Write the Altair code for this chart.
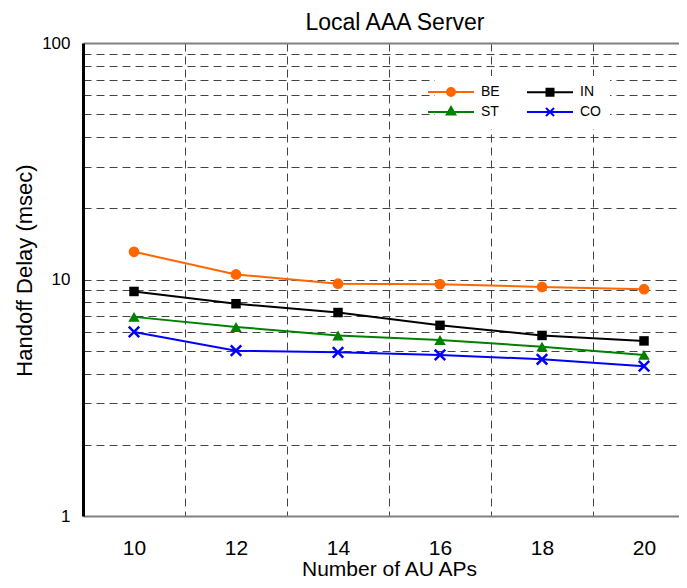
import altair as alt
import pandas as pd

# ---- data ----
aps = [10, 12, 14, 16, 18, 20]
be = [13.1, 10.5, 9.6, 9.55, 9.3, 9.1]
in_ = [8.9, 7.9, 7.25, 6.4, 5.8, 5.5]
st = [6.95, 6.3, 5.8, 5.55, 5.2, 4.8]
co = [6.0, 5.0, 4.92, 4.8, 4.6, 4.3]
# legend order (filled column by column): BE, ST | IN, CO
series = ["BE", "ST", "IN", "CO"]
colors = ["#FF6600", "#008000", "#000000", "#0000FF"]
series_values = {"BE": be, "IN": in_, "ST": st, "CO": co}
x_ticks = list(range(10, 21))
y_ticks = [1, 2, 3, 4, 5, 6, 7, 8, 9, 10, 20, 30, 40, 50, 60, 70, 80, 90, 100]

rows = []
for name in series:
    for a, v in zip(aps, series_values[name]):
        rows.append({"aps": a, "delay": v, "series": name})
df = pd.DataFrame(rows)

FONT = "Liberation Sans"

x_enc = alt.X(
    "aps:Q",
    scale=alt.Scale(domain=[9, 20.686], nice=False, zero=False),
    axis=alt.Axis(
        values=x_ticks,
        labelExpr="datum.value % 2 == 0 ? datum.label : ''",
        grid=True,
        gridDash=[8, 5],
        gridColor="#444444",
        gridOpacity={"condition": {"test": "datum.value % 2 == 1", "value": 1}, "value": 0},
        ticks=False,
        tickSize=0,
        domainColor="#808080",
        domainWidth=2,
        labelFontSize=21,
        labelColor="#000000",
        labelPadding=32,
        labelBaseline="middle",
        title="Number of AU APs",
        titleFontSize=21,
        titleFontWeight="normal",
        titleColor="#000000",
        titleX=306,
        titleY=59,
        titleAlign="center",
        titleBaseline="alphabetic",
    ),
)

y_enc = alt.Y(
    "delay:Q",
    scale=alt.Scale(type="log", domain=[1, 100], nice=False),
    axis=alt.Axis(
        values=y_ticks,
        format="d",
        labelExpr="(datum.value == 1 || datum.value == 10 || datum.value == 100) ? datum.label : ''",
        grid=True,
        gridDash={"condition": {"test": "datum.value == 100 || datum.value == 1", "value": []}, "value": [8, 5]},
        gridColor={"condition": {"test": "datum.value == 100 || datum.value == 1", "value": "#808080"}, "value": "#444444"},
        gridWidth={"condition": {"test": "datum.value == 100", "value": 2}, "value": 1},
        ticks=False,
        tickSize=0,
        domainColor="#000000",
        domainWidth=3,
        labelFontSize=17,
        labelColor="#000000",
        labelPadding=13,
        title="Handoff Delay (msec)",
        titleFontSize=22,
        titleFontWeight="normal",
        titleColor="#000000",
        titleAngle=270,
        titleX=-52,
        titleY=227,
        titleAlign="center",
        titleBaseline="alphabetic",
    ),
)

# legend symbols: a line segment with the marker drawn on it (stroke only,
# nested outlines give the filled look)
L = "M-4.6,0H4.6"
circ = "".join(
    f"M-{r},0A{r},{r},0,1,1,{r},0A{r},{r},0,1,1,-{r},0Z" for r in (0.8, 0.45, 0.12)
)
sq = "".join(f"M-{h},-{h}H{h}V{h}H-{h}Z" for h in (0.7, 0.35, 0.05))
tri = "".join(
    f"M0,{-1.0 * s:.2f}L{0.85 * s:.2f},{0.5 * s:.2f}H{-0.85 * s:.2f}Z" for s in (1.0, 0.55, 0.15)
)
xx = "M-0.8,-0.8L0.8,0.8M-0.8,0.8L0.8,-0.8"
path_by_series = {"BE": L + circ, "IN": L + sq, "ST": L + tri, "CO": L + xx}
legend_paths = [path_by_series[s] for s in series]

leg = alt.Legend(
    title=None,
    orient="none",
    legendX=352,
    legendY=33,
    columns=2,
    symbolSize=100,
    symbolStrokeWidth=2,
    symbolOpacity=1,
    symbolFillColor="transparent",
    labelFontSize=14,
    labelColor="#000000",
    labelOffset=23,
    columnPadding=23,
    rowPadding=3,
    padding=9,
    fillColor="#FFFFFF",
)

color_scale = alt.Scale(domain=series, range=colors)
color_enc = alt.Color("series:N", scale=color_scale, legend=leg)

base = alt.Chart(df).encode(x=x_enc, y=y_enc)

lines = base.mark_line(strokeWidth=2).encode(color=color_enc, detail="series:N")

marker_specs = [
    ("BE", dict(shape="circle", filled=True, size=115)),
    ("IN", dict(shape="square", filled=True, size=90)),
    ("ST", dict(shape="triangle-up", filled=True, size=130)),
    ("CO", dict(shape="M-1,-1L1,1M-1,1L1,-1", filled=False, size=110, strokeWidth=2.5)),
]
point_layers = []
for name, spec in marker_specs:
    point_layers.append(
        base.transform_filter(alt.datum.series == name)
        .mark_point(opacity=1, **spec)
        .encode(color=color_enc)
    )

legend_layer = (
    base.transform_calculate(hidden="datum.delay * 1000")
    .mark_point(filled=False, opacity=1, strokeWidth=2, clip=True)
    .encode(
        y=alt.Y("hidden:Q", scale=alt.Scale(type="log", domain=[1, 100], nice=False)),
        color=color_enc,
        shape=alt.Shape("series:N", scale=alt.Scale(domain=series, range=legend_paths), legend=leg),
    )
)

chart = (
    alt.layer(lines, *point_layers, legend_layer)
    .properties(
        width=596,
        height=473,
        padding={"left": 75, "top": 35, "right": 0, "bottom": 64},
        autosize=alt.AutoSizeParams(type="none"),
        title=alt.TitleParams(
            "Local AAA Server",
            fontSize=23,
            fontWeight="normal",
            color="#000000",
            anchor="middle",
            dx=14,
            dy=9,
            offset=8,
        ),
    )
    .configure(font=FONT)
    .configure_view(stroke=None)
)

chart.save("out.html", embed_options={"renderer": "svg", "actions": False})
